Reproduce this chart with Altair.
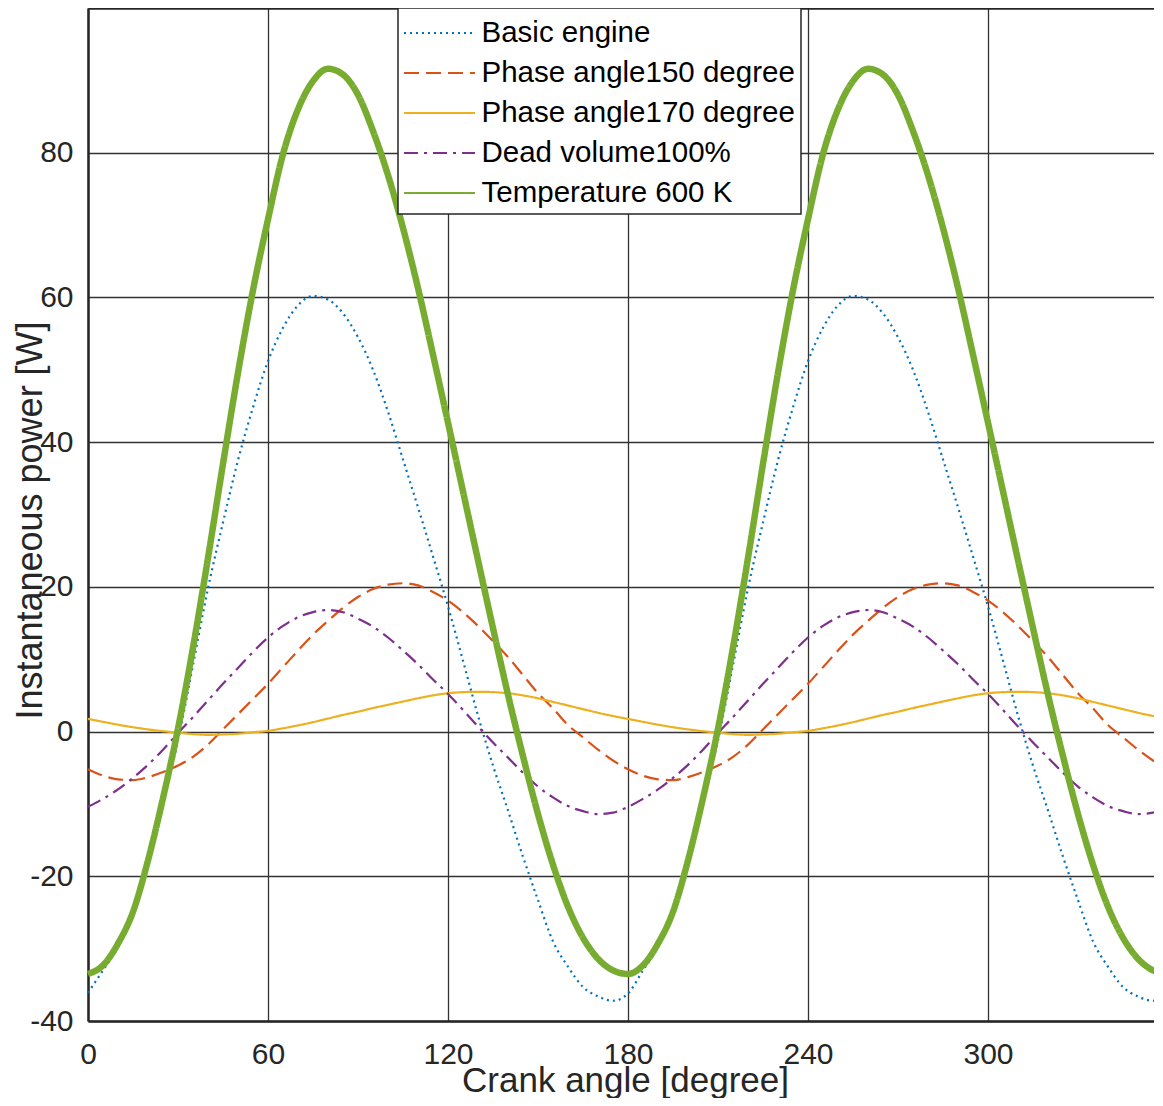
import altair as alt
import pandas as pd

# Crank angle grid [degree]
angles = list(range(0, 360, 5)) + [358]

series_names = [
    "Basic engine",
    "Phase angle150 degree",
    "Phase angle170 degree",
    "Dead volume100%",
    "Temperature 600 K",
]
series_colors = ["#0072BD", "#D95319", "#EDB120", "#7E2F8E", "#77AC30"]
series_dash = [[2, 4], [15, 7], [1, 0], [14, 6, 3, 6], [1, 0]]

# Instantaneous power [W] (0..355 step 5, then 358)
basic = [
    -36.1, -33.0, -29.8, -25.3, -18.0, -9.6, -1.2, 9.2, 19.8, 28.9, 37.5, 44.8,
    51.2, 55.8, 58.9, 60.2, 59.7, 57.8, 54.5, 50.0, 44.2, 37.6, 31.0, 24.2,
    17.3, 9.8, 2.2, -4.7, -10.9, -17.3, -23.3, -29.0, -32.5, -35.3, -36.6, -37.2,
    -36.2, -33.0, -29.8, -25.3, -18.0, -9.6, -1.2, 9.2, 19.8, 28.9, 37.5, 44.8,
    51.2, 55.8, 58.9, 60.2, 59.7, 57.8, 54.5, 50.0, 44.2, 37.6, 31.0, 24.2,
    17.3, 9.8, 2.2, -4.7, -10.9, -17.3, -23.3, -29.0, -32.5, -35.3, -36.6, -37.2,
    -36.7,
]
phase150 = [
    -5.2, -6.1, -6.6, -6.7, -6.3, -5.6, -4.7, -3.5, -1.8, 0.3, 2.4, 4.5,
    6.6, 8.9, 11.2, 13.4, 15.3, 17.1, 18.6, 19.7, 20.3, 20.5, 20.2, 19.3,
    18.1, 16.5, 14.6, 12.5, 10.3, 7.8, 5.3, 3.2, 0.9, -0.8, -2.5, -4.0,
    -5.2, -6.1, -6.6, -6.7, -6.3, -5.6, -4.7, -3.5, -1.8, 0.3, 2.4, 4.5,
    6.6, 8.9, 11.2, 13.4, 15.3, 17.1, 18.6, 19.7, 20.3, 20.5, 20.2, 19.3,
    18.1, 16.5, 14.6, 12.5, 10.3, 7.8, 5.3, 3.2, 0.9, -0.8, -2.5, -4.0,
    -4.7,
]
phase170 = [
    1.75, 1.35, 0.95, 0.6, 0.3, 0.05, -0.15, -0.35, -0.45, -0.4, -0.3, -0.1,
    0.1, 0.45, 0.85, 1.3, 1.8, 2.3, 2.75, 3.25, 3.7, 4.15, 4.6, 5.0,
    5.3, 5.45, 5.5, 5.45, 5.3, 5.0, 4.6, 4.1, 3.6, 3.1, 2.6, 2.15,
    1.75, 1.35, 0.95, 0.6, 0.3, 0.05, -0.15, -0.35, -0.45, -0.4, -0.3, -0.1,
    0.1, 0.45, 0.85, 1.3, 1.8, 2.3, 2.75, 3.25, 3.7, 4.15, 4.6, 5.0,
    5.3, 5.45, 5.5, 5.45, 5.3, 5.0, 4.6, 4.1, 3.6, 3.1, 2.6, 2.15,
    1.9,
]
dead100 = [
    -10.4, -9.3, -8.0, -6.4, -4.6, -2.5, -0.2, 2.0, 4.3, 6.6, 8.8, 11.0,
    13.0, 14.6, 15.8, 16.5, 16.8, 16.5, 15.6, 14.5, 13.0, 11.2, 9.3, 7.2,
    5.2, 3.0, 0.7, -1.5, -3.6, -5.7, -7.6, -9.1, -10.3, -11.0, -11.4, -11.2,
    -10.4, -9.3, -8.0, -6.4, -4.6, -2.5, -0.2, 2.0, 4.3, 6.6, 8.8, 11.0,
    13.0, 14.6, 15.8, 16.5, 16.8, 16.5, 15.6, 14.5, 13.0, 11.2, 9.3, 7.2,
    5.2, 3.0, 0.7, -1.5, -3.6, -5.7, -7.6, -9.1, -10.3, -11.0, -11.4, -11.2,
    -10.8,
]
temp600 = [
    -33.5, -32.3, -29.3, -24.9, -17.8, -9.2, 0.4, 11.6, 24.0, 37.0, 49.6, 61.0,
    70.8, 79.8, 86.0, 89.9, 91.6, 90.8, 88.0, 83.0, 76.9, 69.6, 61.3, 52.1,
    42.7, 33.2, 23.7, 14.3, 5.1, -3.4, -11.4, -18.4, -24.2, -28.5, -31.4, -33.0,
    -33.5, -32.3, -29.3, -24.9, -17.8, -9.2, 0.4, 11.6, 24.0, 37.0, 49.6, 61.0,
    70.8, 79.8, 86.0, 89.9, 91.6, 90.8, 88.0, 83.0, 76.9, 69.6, 61.3, 52.1,
    42.7, 33.2, 23.7, 14.3, 5.1, -3.4, -11.4, -18.4, -24.2, -28.5, -31.4, -33.0,
    -33.4,
]

x_ticks = [0, 60, 120, 180, 240, 300]
y_ticks = [-40, -20, 0, 20, 40, 60, 80]

rows = []
for name, vals in zip(series_names, [basic, phase150, phase170, dead100, temp600]):
    for a, v in zip(angles, vals):
        rows.append({"angle": a, "power": v, "series": name})
df = pd.DataFrame(rows)
df_thin = df[df["series"] != "Temperature 600 K"]
df_green = df[df["series"] == "Temperature 600 K"]

FONT = "Liberation Sans"
DARK = "#262626"

xscale = alt.Scale(domain=[0, 358], nice=False, zero=False)
yscale = alt.Scale(domain=[-40, 100], nice=False, zero=False)

x_axis = alt.Axis(
    values=x_ticks, title="Crank angle [degree]", grid=True,
    gridColor="#333333", gridWidth=1.3, ticks=False,
    domainColor=DARK, domainWidth=2.5,
    labelFont=FONT, labelFontSize=30, labelColor=DARK, labelPadding=18,
    labelFlush=False, labelOverlap=False,
    titleFont=FONT, titleFontSize=35, titleFontWeight="normal", titleColor=DARK,
    titleBaseline="alphabetic", titleY=70,
)
y_axis = alt.Axis(
    values=y_ticks, title="Instantaneous power [W]", grid=True,
    gridColor="#333333", gridWidth=1.3, ticks=False,
    domainColor=DARK, domainWidth=2.5,
    labelFont=FONT, labelFontSize=30, labelColor=DARK, labelPadding=15,
    labelFlush=False, labelOverlap=False, labelExpr="'' + datum.value",
    titleFont=FONT, titleFontSize=36, titleFontWeight="normal", titleColor=DARK,
    titleBaseline="alphabetic", titleX=-47, titleY=512,
)
top_axis = alt.Axis(orient="top", labels=False, ticks=False, grid=False,
                    domainColor=DARK, domainWidth=2.5, title=None)

legend = alt.Legend(
    title=None, orient="none", legendX=310, legendY=0,
    symbolType="M-2,0H2", symbolSize=1260, symbolStrokeWidth=2,
    symbolOffset=16.5, labelOffset=23,
    labelFont=FONT, labelFontSize=29.5, labelColor="black", labelLimit=0,
    rowPadding=6, padding=6,
    fillColor="white", strokeColor=DARK,
)

color_enc = alt.Color(
    "series:N",
    scale=alt.Scale(domain=series_names, range=series_colors),
    sort=series_names, legend=legend,
)
dash_enc = alt.StrokeDash(
    "series:N",
    scale=alt.Scale(domain=series_names, range=series_dash),
    sort=series_names, legend=legend,
)

thin = alt.Chart(df_thin).mark_line(interpolate="monotone", strokeWidth=2.2).encode(
    x=alt.X("angle:Q", scale=xscale, axis=x_axis),
    y=alt.Y("power:Q", scale=yscale, axis=y_axis),
    color=color_enc,
    strokeDash=dash_enc,
    order=alt.Order("angle:Q"),
)

green = alt.Chart(df_green).mark_line(interpolate="monotone", strokeWidth=6.5).encode(
    x=alt.X("angle:Q", scale=xscale, axis=top_axis),
    y=alt.Y("power:Q", scale=yscale, axis=y_axis),
    color=color_enc,
    strokeDash=dash_enc,
    order=alt.Order("angle:Q"),
)

chart = alt.layer(thin, green).resolve_axis(x="independent").properties(
    width=1074,
    height=1013,
    autosize=alt.AutoSizeParams(type="none"),
    padding={"left": 80, "top": 0, "right": -8, "bottom": 77},
    background="white",
).configure_view(stroke=None).configure_legend(strokeWidth=1.5)

chart.save("out.html", embed_options={"renderer": "svg", "actions": False})
